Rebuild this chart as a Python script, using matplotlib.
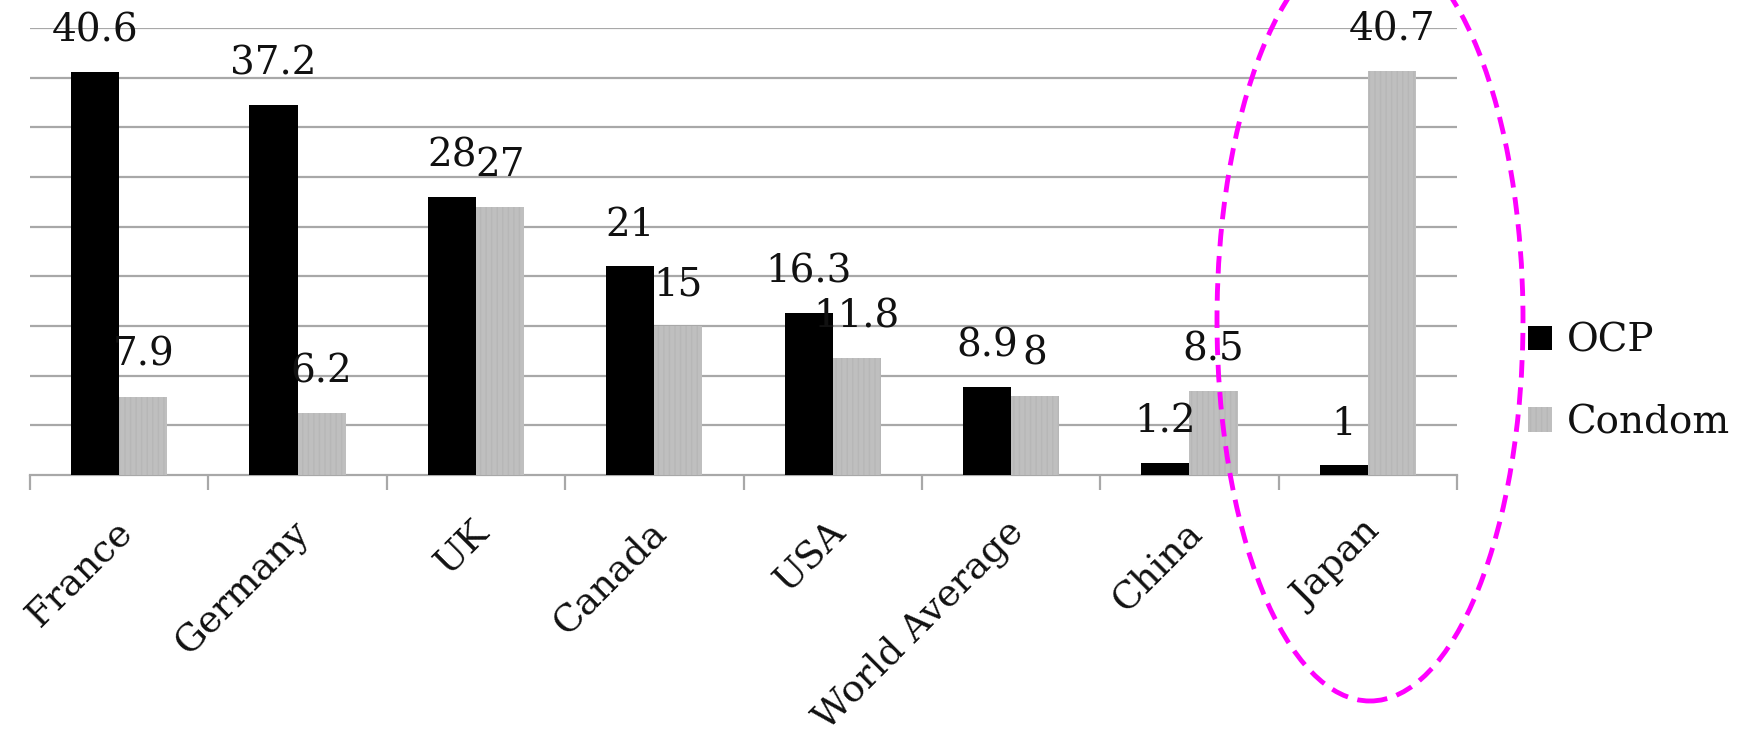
import matplotlib.pyplot as plt
import matplotlib.transforms as mtransforms
from matplotlib.patches import Ellipse
import numpy as np

# contraceptive use by method, %
countries = ['France', 'Germany', 'UK', 'Canada', 'USA', 'World Average', 'China', 'Japan']
ocp = [40.6, 37.2, 28, 21, 16.3, 8.9, 1.2, 1]
condom = [7.9, 6.2, 27, 15, 11.8, 8, 8.5, 40.7]
ocp_labels = ['40.6', '37.2', '28', '21', '16.3', '8.9', '1.2', '1']
condom_labels = ['7.9', '6.2', '27', '15', '11.8', '8', '8.5', '40.7']

plt.rcParams['font.family'] = ['DejaVu Serif']
plt.rcParams['hatch.linewidth'] = 1.0
txt_color = '#111111'
grid_color = '#a8a8a8'
fs = 28

fig = plt.figure(figsize=(17.46, 7.42), dpi=100)
ax = fig.add_axes([30 / 1746, 1 - 475 / 742, 1427 / 1746, 447 / 742])

x = np.arange(len(countries)) + 0.5
w = 0.27

ax.bar(x - w / 2, ocp, w, color='black', label='OCP', zorder=3)
ax.bar(x + w / 2, condom, w, color='#bfbfbf', edgecolor='#b7b7b7', hatch='|||',
       linewidth=0, label='Condom', zorder=3)

for xi, v, s in zip(x - w / 2, ocp, ocp_labels):
    ax.annotate(s, (xi, v), xytext=(0, 22), textcoords='offset points',
                ha='center', va='baseline', fontsize=fs, color=txt_color, zorder=4)
for xi, v, s in zip(x + w / 2, condom, condom_labels):
    ax.annotate(s, (xi, v), xytext=(0, 22), textcoords='offset points',
                ha='center', va='baseline', fontsize=fs, color=txt_color, zorder=4)

ax.set_xlim(0, len(countries))
ax.set_ylim(0, 45)
ax.set_yticks(np.arange(5, 50, 5))
ax.yaxis.grid(True, color=grid_color, linewidth=1.6, zorder=0)
ax.tick_params(axis='y', length=0, labelleft=False)

# boundary tick marks, category names at the centers
ax.set_xticks(np.arange(len(countries) + 1), minor=True)
ax.set_xticks(x)
ax.set_xticklabels(countries, rotation=45, ha='right', va='top',
                   fontsize=27, color=txt_color)
ax.tick_params(axis='x', which='minor', length=11, width=1.6, color=grid_color, direction='out')
ax.tick_params(axis='x', which='major', length=0, pad=28)
shift = mtransforms.ScaledTranslation(20 / 100, 0, fig.dpi_scale_trans)
for lab in ax.get_xticklabels():
    lab.set_transform(lab.get_transform() + shift)

for side in ['top', 'right', 'left']:
    ax.spines[side].set_visible(False)
ax.spines['bottom'].set_color(grid_color)
ax.spines['bottom'].set_linewidth(1.6)

leg = ax.legend(loc='center left', bbox_to_anchor=(1509 / 1746, 1 - 382 / 742),
                bbox_transform=fig.transFigure, frameon=False, fontsize=fs,
                handlelength=0.6, handleheight=0.6, handletextpad=0.4,
                labelspacing=1.15, borderpad=0)
for t in leg.get_texts():
    t.set_color(txt_color)

# highlight around Japan
ell = Ellipse((1370 / 1746, 1 - 320 / 742), 306 / 1746, 762 / 742,
              transform=fig.transFigure, fill=False, edgecolor='#ff00ff',
              linewidth=3.5, linestyle=(0, (3.6, 2.0)), zorder=10)
fig.patches.append(ell)

fig.savefig('out.png', dpi=100, facecolor='white')
